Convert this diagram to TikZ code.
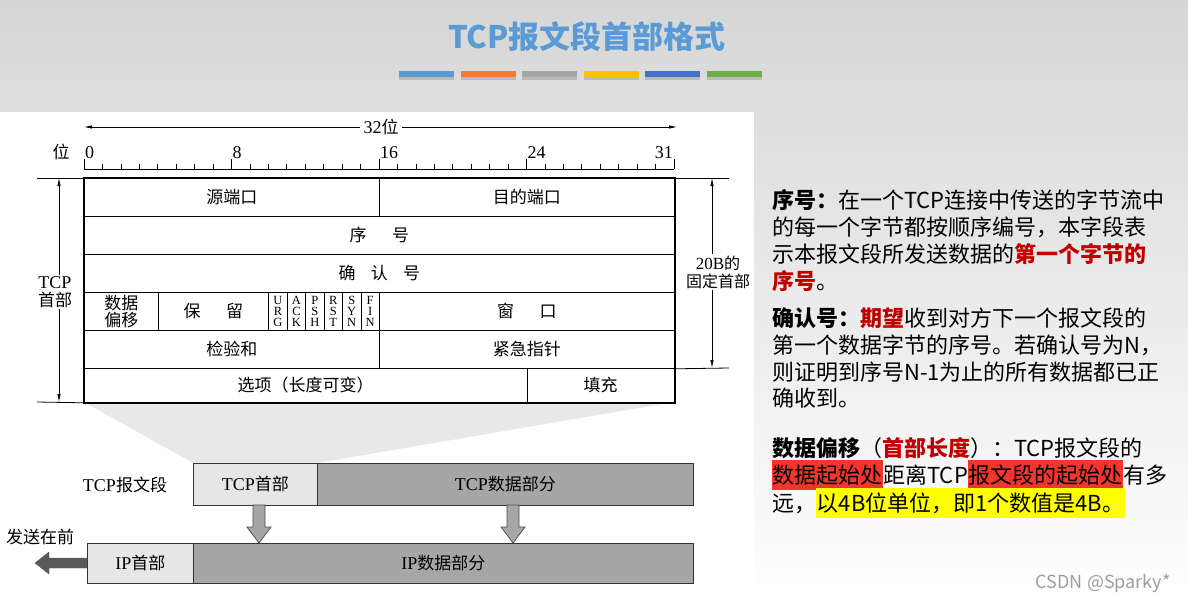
\documentclass[tikz,border=0pt]{standalone}
\usepackage{fontspec}
\setmainfont{Noto Sans CJK SC}
\newfontfamily\tms{Liberation Serif}
\usetikzlibrary{arrows.meta,calc}
\definecolor{titleblue}{HTML}{5B9BD5}
\definecolor{barA}{HTML}{5B9BD5}
\definecolor{barB}{HTML}{ED7D31}
\definecolor{barC}{HTML}{A5A5A5}
\definecolor{barD}{HTML}{FFC000}
\definecolor{barE}{HTML}{4472C4}
\definecolor{barF}{HTML}{70AD47}
\definecolor{darkred}{HTML}{C00000}
\definecolor{hlred}{HTML}{F4352E}
\definecolor{hlyellow}{HTML}{FFFF00}
\definecolor{lightbox}{HTML}{E6E6E6}
\definecolor{midbox}{HTML}{A6A6A6}
\definecolor{fanfill}{HTML}{E8E8E8}
\newcommand\fsD{\fontsize{17}{19}\selectfont}
\newcommand\fsR{\fontsize{22}{27}\selectfont}
\newcommand\hlbox[2]{\smash{{\setlength{\fboxsep}{0.6pt}\colorbox{#1}{\rule[-6pt]{0pt}{28pt}#2}}}}
\begin{document}
\begin{tikzpicture}[x=1pt,y=-1pt,
  cell/.style={draw=black, line width=0.8pt, inner sep=0pt, anchor=north west, font=\fsD},
  seg/.style={draw=black!80, line width=0.9pt, inner sep=0pt, anchor=north west, font=\fsD},
  thinarr/.style={line width=0.7pt, -{Latex[length=8pt,width=3.4pt]}},
  rline/.style={anchor=west, inner sep=0pt, font=\fsR, text height=19pt, text depth=3pt},
  blockarr/.style={fill=midbox, draw=black!70, line width=0.7pt}]
\useasboundingbox (0,0) rectangle (1188,605);
% background
\shade[top color=black!16, bottom color=white] (0,0) rectangle (1188,605);
\fill[white] (0,112) rectangle (754,592);
% title
\node[font=\fontsize{31}{34}\selectfont\bfseries, text=titleblue] (title) at (587,37) {TCP报文段首部格式};
\foreach \c [count=\i from 0] in {barA,barB,barC,barD,barE,barF} {
  \fill[black!40, opacity=0.5] (399+\i*61.6,73) rectangle ++(55,7);
  \fill[\c] (399+\i*61.6,71) rectangle ++(55,6);
}
% ruler
\node[font=\fsD] (wei) at (61,152) {位};
\node[font=\fsD] (w32) at (381,127) {{\tms\fontsize{18}{19}\selectfont 32}位};
\draw[thinarr] (w32.west) -- (84,127);
\draw[thinarr] (w32.east) -- (677,127);
\draw[line width=0.8pt] (84,169) -- (674,169);
\foreach \i in {0,...,32} {
  \pgfmathsetmacro\h{ifthenelse(mod(\i,8)==0,10,5)}
  \draw[line width=0.7pt] (84+\i*18.4375,169) -- ++(0,-\h);
}
\node[anchor=base west, inner sep=1pt, font=\tms\fontsize{18}{19}\selectfont] (r0) at (84,158) {0};
\node[anchor=base west, inner sep=1pt, font=\tms\fontsize{18}{19}\selectfont] (r8) at (231.5,158) {8};
\node[anchor=base west, inner sep=1pt, font=\tms\fontsize{18}{19}\selectfont] (r16) at (379,158) {16};
\node[anchor=base west, inner sep=1pt, font=\tms\fontsize{18}{19}\selectfont] (r24) at (526.5,158) {24};
\node[anchor=base east, inner sep=1pt, font=\tms\fontsize{18}{19}\selectfont] (r31) at (674,158) {31};
% fan shading
\fill[fanfill] (84,402) -- (674,402) -- (317,463) -- (193,463) -- cycle;
% table
\node[cell, minimum width=295pt, minimum height=38pt] (src) at (84,178) {源端口};
\node[cell, minimum width=295pt, minimum height=38pt] (dst) at (379,178) {目的端口};
\node[cell, minimum width=590pt, minimum height=38pt] (seq) at (84,216) {序\hspace{1.5em}号};
\node[cell, minimum width=590pt, minimum height=38pt] (ack) at (84,254) {确\hspace{0.9em}认\hspace{0.9em}号};
\node[cell, minimum width=73.75pt, minimum height=38pt, align=center, font=\fontsize{17}{16.5}\selectfont] (off) at (84,292) {数据\\偏移};
\node[cell, minimum width=110.625pt, minimum height=38pt] (res) at (157.75,292) {保\hspace{1.5em}留};
\foreach \f [count=\i from 0] in {U\\R\\G, A\\C\\K, P\\S\\H, R\\S\\T, S\\Y\\N, F\\I\\N} {
  \node[cell, minimum width=18.4375pt, minimum height=38pt, align=center, font=\tms\fontsize{12.5}{10.8}\selectfont] (flag\i) at (268.375+\i*18.4375,292) {\f};
}
\node[cell, minimum width=295pt, minimum height=38pt] (win) at (379,292) {窗\hspace{1.5em}口};
\node[cell, minimum width=295pt, minimum height=38pt] (chk) at (84,330) {检验和};
\node[cell, minimum width=295pt, minimum height=38pt] (urg) at (379,330) {紧急指针};
\node[cell, minimum width=442.5pt, minimum height=34pt] (opt) at (84,368) {选项（长度可变）};
\node[cell, minimum width=147.5pt, minimum height=34pt] (pad) at (526.5,368) {填充};
\draw[line width=1.4pt] (src.north west) rectangle (pad.south east);
% left brace arrows
\draw[line width=0.8pt] (37,178) -- (src.north west);
\draw[line width=0.8pt] (37,402) -- (opt.south west);
\node[align=center, inner sep=1pt, font=\fontsize{17}{18}\selectfont] (tcphd) at (55,292) {{\tms\fontsize{18}{18}\selectfont TCP}\\首部};
\coordinate (lt) at (59,178);
\coordinate (lb) at (59,402);
\draw[thinarr] (tcphd.north -| lt) -- (lt);
\draw[thinarr] (tcphd.south -| lb) -- (lb);
% right brace arrows
\draw[line width=0.8pt] (dst.north east) -- (729,178);
\draw[line width=0.8pt] (urg.south east) -- (729,368);
\node[align=center, inner sep=1pt, font=\fontsize{16}{18}\selectfont] (fixed) at (718,272) {{\tms\fontsize{17}{18}\selectfont 20B}的\\固定首部};
\coordinate (rt) at (712,178);
\coordinate (rb) at (712,368);
\draw[thinarr] (fixed.north -| rt) -- (rt);
\draw[thinarr] (fixed.south -| rb) -- (rb);
% segment rows
\node[font=\fsD] (tcpseg) at (125,485) {{\tms\fontsize{18}{19}\selectfont TCP}报文段};
\node[seg, fill=lightbox, minimum width=124pt, minimum height=42pt] (tcph) at (193,463) {{\tms\fontsize{18}{19}\selectfont TCP}首部};
\node[seg, fill=midbox, minimum width=376pt, minimum height=42pt] (tcpd) at (317,463) {{\tms\fontsize{18}{19}\selectfont TCP}数据部分};
\node[font=\fsD] (sendfirst) at (40,537) {发送在前};
\node[seg, fill=lightbox, minimum width=106pt, minimum height=40pt] (iph) at (87,543) {{\tms\fontsize{18}{19}\selectfont IP}首部};
\node[seg, fill=midbox, minimum width=500pt, minimum height=40pt] (ipd) at (193,543) {{\tms\fontsize{18}{19}\selectfont IP}数据部分};
% block arrows
\foreach \cx in {259,513} {
  \filldraw[blockarr] (\cx-6,505) -- (\cx-6,527) -- (\cx-12,527) -- (\cx,543) -- (\cx+12,527) -- (\cx+6,527) -- (\cx+6,505) -- cycle;
}
\filldraw[fill=black!65, draw=black!65] (iph.west |- 0,558) -- (49,558) -- (49,552) -- (35,563) -- (49,574) -- (49,568) -- (iph.west |- 0,568) -- cycle;
% right-hand text
\node[rline] (p1a) at (772,200) {\textbf{序号：}在一个TCP连接中传送的字节流中};
\node[rline] (p1b) at (772,227) {的每一个字节都按顺序编号，本字段表};
\node[rline] (p1c) at (772,254) {示本报文段所发送数据的\textcolor{darkred}{\textbf{第一个字节的}}};
\node[rline] (p1d) at (772,281) {\textcolor{darkred}{\textbf{序号}}。};
\node[rline] (p2a) at (772,318) {\textbf{确认号：}\textcolor{darkred}{\textbf{期望}}收到对方下一个报文段的};
\node[rline] (p2b) at (772,345) {第一个数据字节的序号。若确认号为N，};
\node[rline] (p2c) at (772,372) {则证明到序号N-1为止的所有数据都已正};
\node[rline] (p2d) at (772,398) {确收到。};
\node[rline] (p3a) at (772,448) {\textbf{数据偏移}（\textcolor{darkred}{\textbf{首部长度}}）：TCP报文段的};
\node[rline] (p3b) at (772,475) {\hlbox{hlred}{数据起始处}距离TCP\hlbox{hlred}{报文段的起始处}有多};
\node[rline] (p3c) at (772,503) {远，\hlbox{hlyellow}{以4B位单位，即1个数值是4B。}};
\node[anchor=east, text=black!38, font=\fontsize{18}{20}\selectfont] (mark) at (1174,583) {CSDN @Sparky*};
\end{tikzpicture}
\end{document}
